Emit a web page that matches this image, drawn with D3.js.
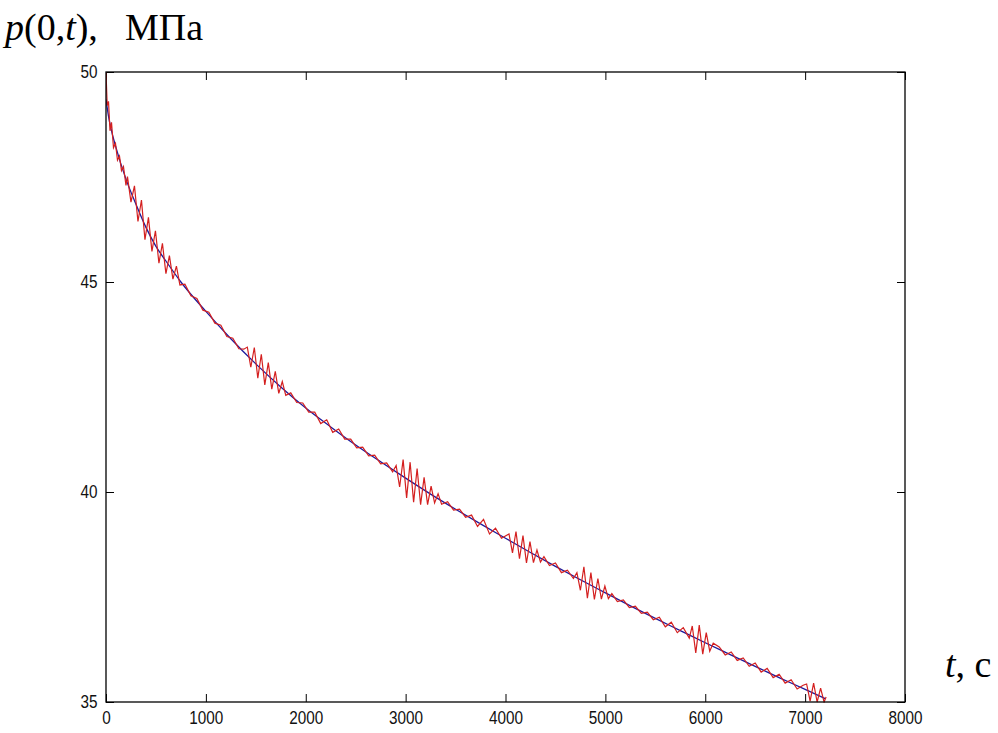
<!DOCTYPE html>
<html>
<head>
<meta charset="utf-8">
<script src="https://cdn.jsdelivr.net/npm/d3@7/dist/d3.min.js"></script>
<style>
  html, body { margin: 0; padding: 0; background: #fff; }
  svg { display: block; }
</style>
</head>
<body>
<script>
// ---- Data ----
const xTicks = [0, 1000, 2000, 3000, 4000, 5000, 6000, 7000, 8000];
const yTicks = [35, 40, 45, 50];

// smooth (blue) curve
const blueT = [0,25,50,100,200,300,400,500,600,750,1000,1250,1500,1750,2000,2250,2500,2750,3000,3250,3500,3750,4000,4250,4500,4750,5000,5250,5500,5750,6000,6250,6500,6750,7000,7200];
const blueP = [49.35,48.95,48.65,48.2,47.45,46.85,46.3,45.85,45.5,45.0,44.3,43.65,43.05,42.5,42.0,41.55,41.12,40.72,40.33,39.95,39.59,39.24,38.9,38.56,38.23,37.91,37.6,37.29,36.99,36.7,36.41,36.13,35.85,35.57,35.3,35.08];

// oscillating (red) curve
const redT = [0,12,25,40,55,75,95,115,135,155,175,200,
  215,250,285,320,355,390,425,460,495,530,565,600,635,670,705,740,
  790,850,910,970,1030,1090,1150,1210,1270,1330,1380,
  1415,1450,1485,1520,1555,1590,1625,1660,1695,1730,1765,1800,
  1850,1910,1970,2030,2090,2150,2210,2270,2330,2390,2450,2510,2570,2630,2690,2750,2810,2870,
  2905,2940,2975,3010,3045,3080,3115,3150,3185,3220,3255,3290,3325,3360,
  3420,3480,3540,3600,3660,3720,3780,3840,3900,3960,
  4035,4070,4105,4140,4175,4210,4245,4280,4315,4350,4385,
  4440,4500,4560,4620,4680,
  4715,4750,4785,4820,4855,4890,4925,4960,4995,5030,5065,
  5120,5180,5240,5300,5360,5420,5480,5540,5600,5660,5720,5780,5840,
  5870,5905,5940,5975,6010,6045,6080,
  6140,6200,6260,6320,6380,6440,6500,6560,6620,6680,6740,6800,6860,6920,6980,
  7015,7050,7085,7120,7155,7190,7210];
const redP = [50.0,49.2,49.3,48.6,48.8,48.2,48.3,47.9,48.0,47.65,47.75,47.3,
  47.51,46.90,47.29,46.44,46.95,46.01,46.54,45.73,46.22,45.45,45.92,45.20,45.63,45.07,45.38,44.93,
  44.95,44.67,44.61,44.33,44.28,44.02,43.97,43.70,43.66,43.41,43.40,
  43.45,42.97,43.44,42.71,43.28,42.55,43.08,42.45,42.87,42.35,42.63,42.30,
  42.36,42.13,42.12,41.90,41.90,41.63,41.72,41.42,41.50,41.26,41.26,41.05,41.07,40.86,40.88,40.67,40.69,40.48,
  40.63,40.12,40.77,39.86,40.71,39.76,40.56,39.70,40.35,39.70,40.14,39.74,39.96,39.71,
  39.77,39.57,39.59,39.40,39.45,39.18,39.35,39.00,39.14,38.90,
  39.00,38.55,39.06,38.41,38.96,38.31,38.82,38.32,38.62,38.33,38.46,
  38.25,38.31,38.08,38.14,37.94,
  38.08,37.66,38.22,37.47,38.08,37.44,37.94,37.45,37.76,37.46,37.58,
  37.39,37.43,37.25,37.28,37.11,37.14,36.96,37.02,36.79,36.90,36.65,36.77,36.52,
  36.81,36.17,36.83,36.14,36.65,36.21,36.40,
  36.31,36.12,36.19,35.99,36.05,35.85,35.93,35.71,35.80,35.58,35.66,35.45,35.53,35.31,35.40,
  35.43,35.02,35.45,35.00,35.33,35.00,35.12];

// ---- Layout ----
const W = 998, H = 733;
const L = 106, R = 905, T = 72, B = 702;

const svg = d3.select("body").append("svg")
  .attr("width", W).attr("height", H)
  .attr("viewBox", `0 0 ${W} ${H}`);

const x = d3.scaleLinear().domain([0, 8000]).range([L, R]);
const y = d3.scaleLinear().domain([35, 50]).range([B, T]);

const tickFont = "'Liberation Sans', Arial, Helvetica, sans-serif";

// axes (inward ticks, like MATLAB)
const gB = svg.append("g").attr("transform", `translate(0,${B})`)
  .call(d3.axisBottom(x).tickValues(xTicks).tickSizeInner(-8).tickSizeOuter(0).tickPadding(9).tickFormat(d3.format("d")));
const gT = svg.append("g").attr("transform", `translate(0,${T})`)
  .call(d3.axisTop(x).tickValues(xTicks).tickSizeInner(-8).tickSizeOuter(0).tickFormat(""));
const gL = svg.append("g").attr("transform", `translate(${L},0)`)
  .call(d3.axisLeft(y).tickValues(yTicks).tickSizeInner(-8).tickSizeOuter(0).tickPadding(10).tickFormat(d3.format("d")));
const gR = svg.append("g").attr("transform", `translate(${R},0)`)
  .call(d3.axisRight(y).tickValues(yTicks).tickSizeInner(-8).tickSizeOuter(0).tickFormat(""));

[gB, gT, gL, gR].forEach(g => {
  g.attr("font-size", null).attr("font-family", null);
  g.select(".domain").remove();
  g.selectAll(".tick line").attr("stroke", "#000").attr("stroke-width", 1);
  g.selectAll(".tick text")
    .attr("fill", "#111")
    .attr("font-family", tickFont)
    .attr("font-size", 18);
});
gB.selectAll(".tick text").attr("transform", "scale(0.85,1)");
gL.selectAll(".tick text").attr("transform", "scale(0.85,1)");

// curves
svg.append("clipPath").attr("id", "plotclip")
  .append("rect").attr("x", L).attr("y", T - 1).attr("width", R - L).attr("height", B - T + 2);

const blueData = blueT.map((t, i) => [t, blueP[i]]);
const redData = redT.map((t, i) => [t, redP[i]]);

svg.append("path")
  .datum(blueData)
  .attr("clip-path", "url(#plotclip)")
  .attr("fill", "none")
  .attr("stroke", "#1c1a9c")
  .attr("stroke-width", 1.3)
  .attr("d", d3.line().x(d => x(d[0])).y(d => y(d[1])).curve(d3.curveMonotoneX));

svg.append("path")
  .datum(redData)
  .attr("clip-path", "url(#plotclip)")
  .attr("fill", "none")
  .attr("stroke", "#d42020")
  .attr("stroke-width", 1.2)
  .attr("d", d3.line().x(d => x(d[0])).y(d => y(d[1])));

// box
svg.append("rect")
  .attr("x", L).attr("y", T).attr("width", R - L).attr("height", B - T)
  .attr("fill", "none").attr("stroke", "#000").attr("stroke-width", 1.3);

// axis titles
const serif = "'Liberation Serif', 'Times New Roman', Times, serif";
const yt = svg.append("text")
  .attr("x", 5).attr("y", 40)
  .attr("font-family", serif).attr("font-size", 38).attr("fill", "#000");
yt.append("tspan").attr("font-style", "italic").text("p");
yt.append("tspan").text("(0,");
yt.append("tspan").attr("font-style", "italic").text("t");
yt.append("tspan").text("),");
yt.append("tspan").attr("x", 125).text("МПа");

const xt = svg.append("text")
  .attr("x", 945).attr("y", 677)
  .attr("font-family", serif).attr("font-size", 38).attr("fill", "#000");
xt.append("tspan").attr("font-style", "italic").text("t");
xt.append("tspan").text(", с");
</script>
</body>
</html>
